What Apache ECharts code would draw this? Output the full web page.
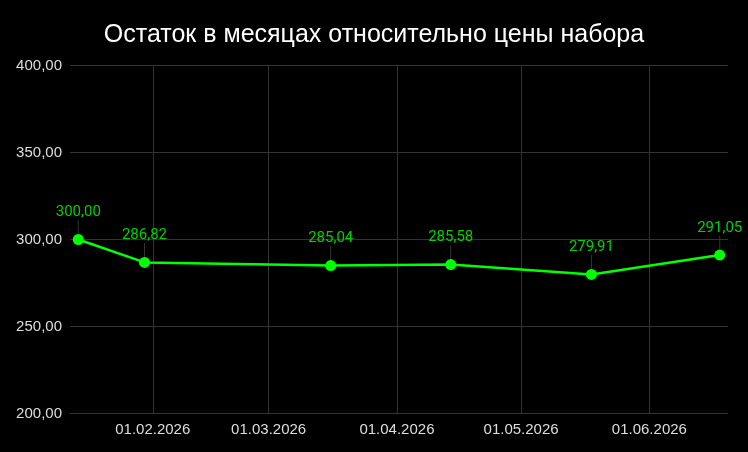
<!DOCTYPE html>
<html>
<head>
<meta charset="utf-8">
<script src="https://cdn.jsdelivr.net/npm/echarts@6/dist/echarts.min.js"></script>
<style>
html,body{margin:0;padding:0;background:#000;}
#c{width:748px;height:452px;}
</style>
</head>
<body>
<div id="c"></div>
<script>
var titleText = 'Остаток в месяцах относительно цены набора';
var dates = ['2026-01-14', '2026-01-30', '2026-03-16', '2026-04-14', '2026-05-18', '2026-06-18'];
var values = [300.00, 286.82, 285.04, 285.58, 279.91, 291.05];
var xMin = '2026-01-12';
var xMax = '2026-06-20';
var yMin = 200, yMax = 400, yStep = 50;

function fmt(v){ return Number(v).toFixed(2).replace('.', ','); }
function pad(n){ return (n<10?'0':'')+n; }

var chart = echarts.init(document.getElementById('c'), null, {renderer:'canvas'});
chart.setOption({
  backgroundColor: '#000',
  animation: false,
  title: {
    text: titleText,
    left: 'center',
    top: 18,
    textStyle: {color:'#fff', fontSize:25, fontWeight:'normal', fontFamily:'Liberation Sans, Arial, sans-serif'}
  },
  grid: {left:70, right:20, top:65.5, bottom:38.5, containLabel:false},
  xAxis: {
    type: 'time',
    min: xMin,
    max: xMax,
    minInterval: 28*86400000,
    maxInterval: 31*86400000,
    axisLine: {show:false},
    axisTick: {show:false},
    splitLine: {show:true, showMinLine:false, showMaxLine:false, lineStyle:{color:'#333', width:1}},
    axisLabel: {
      color:'#ddd', fontSize:15, fontFamily:'Liberation Sans, Arial, sans-serif', margin:9,
      formatter: function(v){ var d=new Date(v); return pad(d.getDate())+'.'+pad(d.getMonth()+1)+'.'+d.getFullYear(); }
    }
  },
  yAxis: {
    type: 'value',
    min: yMin, max: yMax, interval: yStep,
    axisLine: {show:false},
    axisTick: {show:false},
    splitLine: {show:true, lineStyle:{color:'#333', width:1}},
    axisLabel: {color:'#ddd', fontSize:15, fontFamily:'Liberation Sans, Arial, sans-serif', margin:8, formatter: fmt}
  },
  series: [{
    type: 'line',
    data: dates.map(function(d,i){ return [d, values[i]]; }),
    symbol: 'circle',
    symbolSize: 11,
    lineStyle: {color:'#00ff00', width:2.5},
    itemStyle: {color:'#00ff00'},
    label: {
      show: true, position: 'top', distance: 4,
      color: '#00d000', fontSize: 15, fontFamily: 'Roboto, sans-serif',
      formatter: function(p){ return fmt(p.value[1]); }
    },
    labelLayout: {dy: -10},
    labelLine: {show: true, length2: 0, lineStyle: {color:'#333', width:1}}
  }]
});
</script>
</body>
</html>
